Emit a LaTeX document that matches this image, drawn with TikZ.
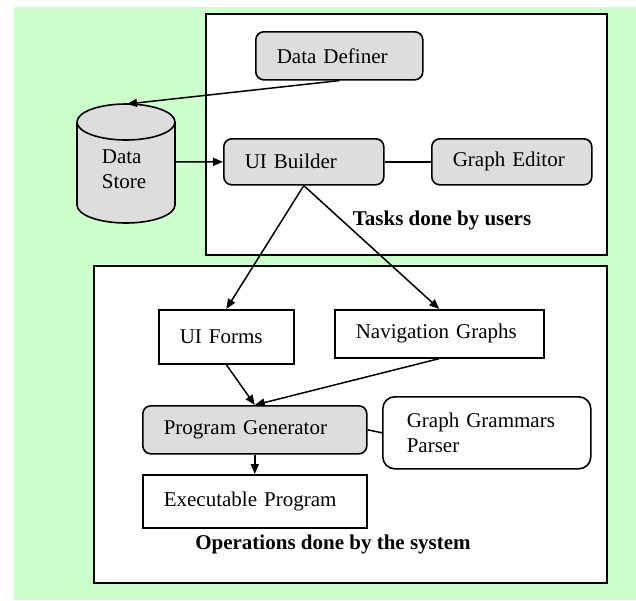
\documentclass[tikz,border=0pt]{standalone}
\usepackage{fontspec}
\setmainfont{Liberation Serif}
\usetikzlibrary{arrows.meta, positioning}
\definecolor{bgcolor}{RGB}{204,255,204}
\definecolor{boxgray}{RGB}{221,221,221}

\begin{document}
\begin{tikzpicture}[
    x=1pt, y=-1pt,
    >={Triangle[length=10pt, width=8pt]},
    font=\fontsize{21}{25}\selectfont,
    panel/.style={draw, line width=1.8pt, fill=white},
    box/.style={draw, line width=1.6pt, anchor=north west, align=left, inner xsep=21pt, inner ysep=0pt, fill=white},
    task/.style={box, rounded corners=8pt, fill=boxgray},
    link/.style={line width=1.5pt},
    label/.style={font=\fontsize{21}{25}\selectfont\bfseries},
]
    \useasboundingbox (0,0) rectangle (636,600);
    \fill[bgcolor] (14,7) rectangle (636,600);
    \draw[panel] (206,14) rectangle (607,255);
    \draw[panel] (94,266) rectangle (607,583);

    % data store drum
    \draw[line width=1.6pt, fill=boxgray] (77,122) -- (77,205)
        arc[start angle=180, end angle=360, x radius=49pt, y radius=18pt]
        -- (175,122) arc[start angle=0, end angle=180, x radius=49pt, y radius=18pt];
    \draw[line width=1.6pt] (77,122) arc[start angle=180, end angle=360, x radius=49pt, y radius=18pt];
    \node[align=left] (store) at (124,169) {Data\\Store};
    \coordinate (storetop) at (127,104);
    \coordinate (storeside) at (175,162);

    \node[task, text width=125pt, minimum height=48pt] (dd) at (255,31) {Data Definer};
    \node[task, text width=118pt, minimum height=46pt] (ub) at (223,138) {UI Builder};
    \node[task, text width=118pt, minimum height=46pt] (ge) at (431,138) {Graph Editor};
    \node[label] (users) at (442,220) {Tasks done by users};

    \node[box, text width=93pt, minimum height=54pt] (uf) at (158,309) {UI Forms};
    \node[box, text width=167pt, minimum height=48pt] (ng) at (334,309) {Navigation Graphs};
    \node[task, text width=182pt, minimum height=48pt] (pg) at (142,405) {Program Generator};
    \node[box, rounded corners=12pt, inner xsep=24pt, text width=160pt, minimum height=72pt] (gp) at (382,396) {Graph Grammars\\Parser};
    \node[box, text width=182pt, minimum height=53pt] (ep) at (142,474) {Executable Program};
    \node[label] (system) at (333,544) {Operations done by the system};

    \draw[->, link] (dd.south) -- (storetop);
    \draw[->, link] (storeside) -- (ub.west);
    \draw[link] (ub) -- (ge);
    \draw[->, link] (ub.south) -- (uf.north);
    \draw[->, link] (ub.south) -- (ng.north);
    \draw[->, link] (uf.south) -- (pg.north);
    \draw[->, link] (ng.south) -- (pg.north);
    \draw[->, link] (pg.south) -- (ep.north);
    \draw[link] (pg.east) -- (gp.west);
\end{tikzpicture}
\end{document}
